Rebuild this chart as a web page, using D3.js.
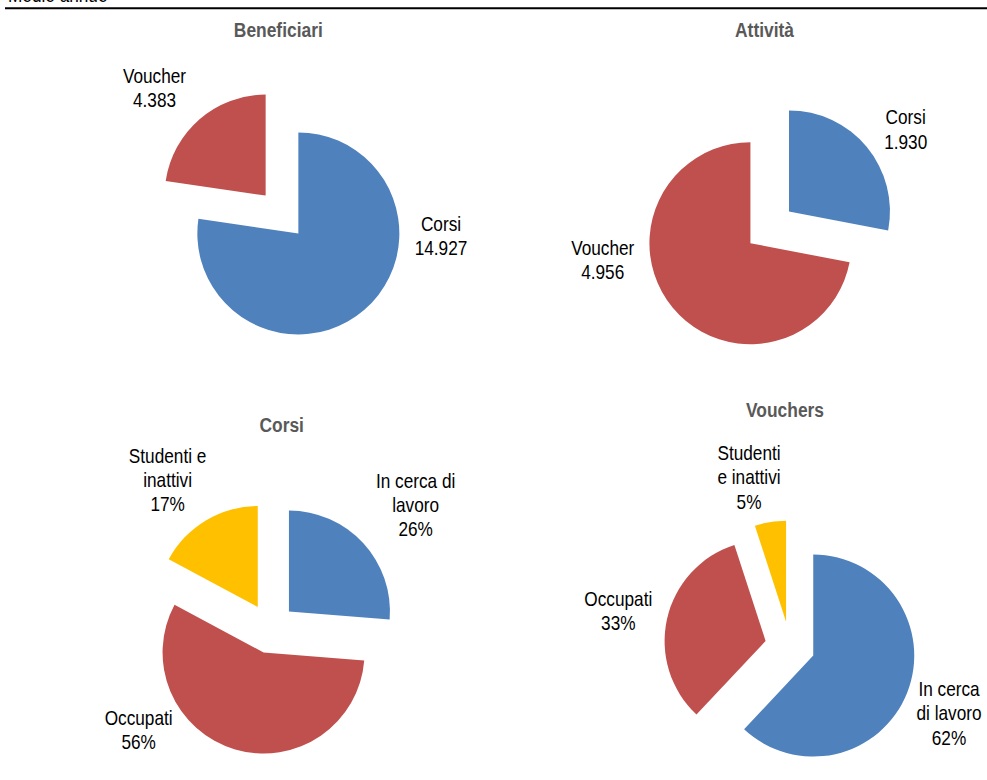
<!DOCTYPE html>
<html>
<head>
<meta charset="utf-8">
<script src="https://cdn.jsdelivr.net/npm/d3@7"></script>
<style>
  html, body { margin: 0; padding: 0; background: #fff; }
  svg { display: block; font-family: "Liberation Sans", Arial, sans-serif; }
</style>
</head>
<body>
<svg id="chart" width="987" height="780"></svg>
<script>
// ---------- DATA ----------
const headerText = "Medie annue";

const beneficiariTitle = "Beneficiari";
const beneficiariCategories = ["Corsi", "Voucher"];
const beneficiariValues = [14927, 4383];

const attivitaTitle = "Attività";
const attivitaCategories = ["Corsi", "Voucher"];
const attivitaValues = [1930, 4956];

const corsiTitle = "Corsi";
const corsiCategories = ["In cerca di lavoro", "Occupati", "Studenti e inattivi"];
const corsiCategoryLines = [["In cerca di", "lavoro"], ["Occupati"], ["Studenti e", "inattivi"]];
const corsiValues = [26, 56, 17];

const vouchersTitle = "Vouchers";
const vouchersCategories = ["In cerca di lavoro", "Occupati", "Studenti e inattivi"];
const vouchersCategoryLines = [["In cerca", "di lavoro"], ["Occupati"], ["Studenti", "e inattivi"]];
const vouchersValues = [62, 33, 5];

// ---------- STYLE / LAYOUT ----------
const colorBlue = "#4F81BD", colorRed = "#C0504D", colorYellow = "#FFC000";
const sliceColors = [colorBlue, colorRed, colorYellow];
const radius = 101;
const explode = 25;
const lineGap = 24.5;

const itLocale = d3.formatLocale({decimal: ",", thousands: ".", grouping: [3], currency: ["", " €"]});
const fmtInt = itLocale.format(",d");

const panels = [
  { title: beneficiariTitle, values: beneficiariValues,
    lines: beneficiariCategories.map((c, i) => [c, fmtInt(beneficiariValues[i])]),
    cx: 282, cy: 214.5, tx: 278.3, ty: 36.7,
    labelOffsets: [[159, 16], [-127.5, -132]] },
  { title: attivitaTitle, values: attivitaValues,
    lines: attivitaCategories.map((c, i) => [c, fmtInt(attivitaValues[i])]),
    cx: 769.7, cy: 227.3, tx: 764.5, ty: 36.7,
    labelOffsets: [[136, -103], [-167, 27.7]] },
  { title: corsiTitle, values: corsiValues,
    lines: corsiCategoryLines.map((l, i) => l.concat([corsiValues[i] + "%"])),
    cx: 270.6, cy: 628.5, tx: 281.7, ty: 431.7,
    labelOffsets: [[145, -141], [-132, 96.5], [-103, -166]] },
  { title: vouchersTitle, values: vouchersValues,
    lines: vouchersCategoryLines.map((l, i) => l.concat([vouchersValues[i] + "%"])),
    cx: 790, cy: 646.4, tx: 785, ty: 417.3,
    labelOffsets: [[159, 49.6], [-171.7, -40.7], [-41, -186.4]] }
];

const svg = d3.select("#chart");

// header text (cut off at top) and rule
svg.append("text")
  .attr("transform", "translate(8,2) scale(0.82,1)")
  .attr("font-size", 21)
  .attr("fill", "#000")
  .text(headerText);
svg.append("line")
  .attr("x1", 5).attr("x2", 987).attr("y1", 8.3).attr("y2", 8.3)
  .attr("stroke", "#000").attr("stroke-width", 2);

const pie = d3.pie().sort(null).value(d => d);
const arc = d3.arc().innerRadius(0).outerRadius(radius);

panels.forEach(p => {
  const g = svg.append("g").attr("transform", `translate(${p.cx},${p.cy})`);
  const arcs = pie(p.values);

  g.selectAll("path")
    .data(arcs)
    .join("path")
    .attr("d", arc)
    .attr("fill", (d, i) => sliceColors[i])
    .attr("transform", d => {
      const mid = (d.startAngle + d.endAngle) / 2;
      return `translate(${Math.sin(mid) * explode},${-Math.cos(mid) * explode})`;
    });

  // title
  svg.append("text")
    .attr("transform", `translate(${p.tx},${p.ty}) scale(0.87,1)`)
    .attr("text-anchor", "middle")
    .attr("font-size", 20)
    .attr("font-weight", "bold")
    .attr("fill", "#595959")
    .text(p.title);

  // labels
  arcs.forEach((d, i) => {
    const [ox, oy] = p.labelOffsets[i];
    const t = g.append("text")
      .attr("transform", `translate(${ox},${oy}) scale(0.82,1)`)
      .attr("text-anchor", "middle")
      .attr("font-size", 21)
      .attr("fill", "#000");
    p.lines[i].forEach((line, k) => {
      t.append("tspan").attr("x", 0).attr("y", k * lineGap).text(line);
    });
  });
});
</script>
</body>
</html>
